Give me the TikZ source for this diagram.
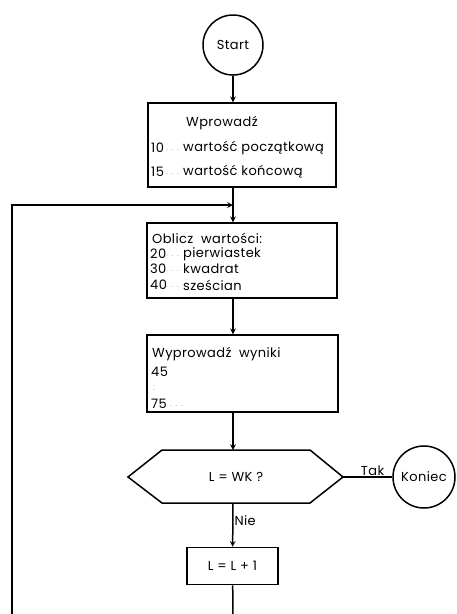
\documentclass[tikz,border=0pt]{standalone}
\usepackage{fontspec}
\setmainfont{Poppins}[LetterSpace=3]
\usetikzlibrary{calc}

\begin{document}
\begin{tikzpicture}[x=1pt, y=-1pt,
box/.style={draw, line width=1.5pt, inner sep=0pt},
term/.style={draw, circle, line width=1.5pt, inner sep=0pt, font=\fontsize{13}{15}\selectfont},
line/.style={line width=1.5pt},
flow/.style={-stealth, line width=1.5pt},
txt/.style={anchor=west, inner sep=0pt, font=\fontsize{13}{15}\selectfont},
lbl/.style={inner sep=1pt, font=\fontsize{13}{15}\selectfont},
dots/.style={anchor=west, inner sep=0pt, black!30, font=\fontsize{9}{11}\selectfont}
]
\useasboundingbox (0,0) rectangle (456,614);

\coordinate (join) at (233,205);
\coordinate (loopL) at (12,205);
\coordinate (bottomL) at (12,614);
\coordinate (bottomR) at (233,614);

\node[term, minimum size=60pt] (start) at (233,45) {Start};

\node[box, minimum width=188pt, minimum height=84pt] (input) at (242,145) {};
\node[txt] (inT) at (186,123) {Wprowadź};
\node[txt] (inA) at (151,148) {10};
\node[dots] (inAd) at (166,150) {. . .};
\node[txt] (inAt) at (183,148) {wartość początkową};
\node[txt] (inB) at (151,172) {15};
\node[dots] (inBd) at (166,174) {. . .};
\node[txt] (inBt) at (183,172) {wartość końcową};

\node[box, minimum width=190pt, minimum height=75pt] (calc) at (242,260.5) {};
\node[txt] (calcT) at (152,238) {Oblicz \ wartości:};
\node[txt] (calcA) at (150,254) {20};
\node[dots] (calcAd) at (166,256) {. . .};
\node[txt] (calcAt) at (183,254) {pierwiastek};
\node[txt] (calcB) at (150,269) {30};
\node[dots] (calcBd) at (166,271) {. . .};
\node[txt] (calcBt) at (183,269) {kwadrat};
\node[txt] (calcC) at (150,285) {40};
\node[dots] (calcCd) at (166,287) {. . .};
\node[txt] (calcCt) at (183,285) {sześcian};

\node[box, minimum width=191pt, minimum height=77pt] (output) at (242.5,373.5) {};
\node[txt] (outT) at (152,354) {Wyprowadź \ wyniki};
\node[txt] (outA) at (151,372) {45};
\node[dots] (outB) at (153,388) {:};
\node[txt] (outC) at (151,404) {75};
\node[dots] (outCd) at (170,406) {. . .};

\coordinate (decW) at (128,477);
\coordinate (decNW) at (162,450);
\coordinate (decN) at (233,450);
\coordinate (decNE) at (310,450);
\coordinate (decE) at (343,477);
\coordinate (decSE) at (310,503);
\coordinate (decS) at (233,503);
\coordinate (decSW) at (162,503);
\draw[line, line join=miter] (decW) -- (decNW) -- (decNE) -- (decE) -- (decSE) -- (decSW) -- cycle;
\node[lbl] (dec) at (236,477) {L = WK ?};

\node[term, minimum size=62pt] (end) at (424,477) {Koniec};

\node[box, minimum width=91pt, minimum height=37pt, font=\fontsize{13}{15}\selectfont] (incr) at (232.5,566) {L = L + 1};

\draw[flow] (start) -- (start |- input.north);
\draw[line] (start |- input.south) -- (join);
\draw[flow] (join) -- (join |- calc.north);
\draw[flow] (join |- calc.south) -- (join |- output.north);
\draw[flow] (join |- output.south) -- (decN);
\draw[line] (decE) -- node[lbl, above, pos=0.6] (yes) {Tak} (end);
\draw[flow] (decS) -- node[lbl, right, pos=0.4] (no) {Nie} (incr);
\draw[line] (incr) -- (bottomR);
\draw[flow] (bottomL) -- (loopL) -- (join);
\end{tikzpicture}
\end{document}
